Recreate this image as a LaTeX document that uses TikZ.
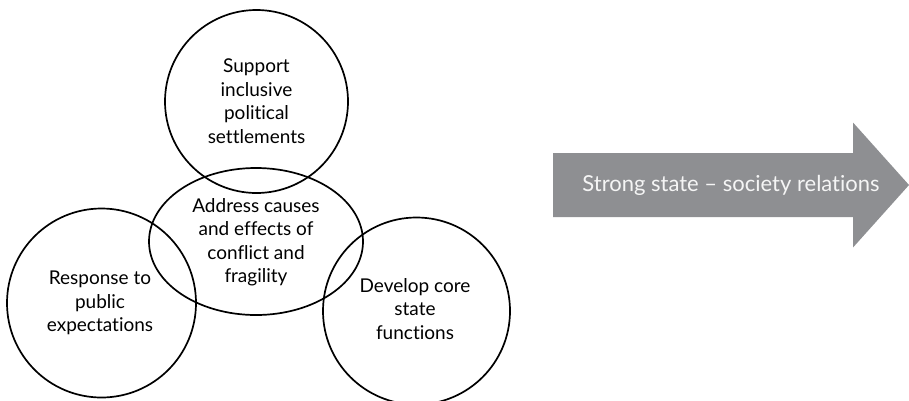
\documentclass[tikz,border=0pt]{standalone}
\usepackage{fontspec}
\setmainfont{Lato}[Ligatures=NoCommon]
\usetikzlibrary{shapes.arrows}
\definecolor{arrowgrey}{HTML}{8E8F92}
\begin{document}
\begin{tikzpicture}[x=1pt,y=-1pt,
  ring/.style={draw=black,line width=1.7pt,circle,inner sep=0pt,minimum size=#1},
  label/.style={align=center,font=\fontsize{19}{23.5}\selectfont,text=black}]
\useasboundingbox (0,0) rectangle (909,400);
% the four overlapping areas
\node[ring=183pt] (settle) at (256.5,101.5) {};
\draw[line width=1.7pt] (256,241.5) ellipse [x radius=107, y radius=73.5];
\node[ring=189pt] (public) at (101.5,303) {};
\node[ring=187pt] (core) at (416.5,311) {};
\node[label] (settleT) at (256.5,101) {Support\\inclusive\\political\\settlements};
\node[label] (conflict) at (256,242) {Address causes\\and effects of\\conflict and\\fragility};
\node[label] (publicT) at (100,303) {Response to\\public\\expectations};
\node[label] (coreT) at (415,309) {Develop core\\state\\functions};
% outcome arrow
\fill[arrowgrey] (553,153) -- (853,153) -- (853,122.5) -- (909,185) -- (853,247.5) -- (853,217) -- (553,217) -- cycle;
\node[font=\fontsize{22}{26}\selectfont,text=white!96!black] (outcome) at (731,185) {Strong state -- society relations};
\end{tikzpicture}
\end{document}
